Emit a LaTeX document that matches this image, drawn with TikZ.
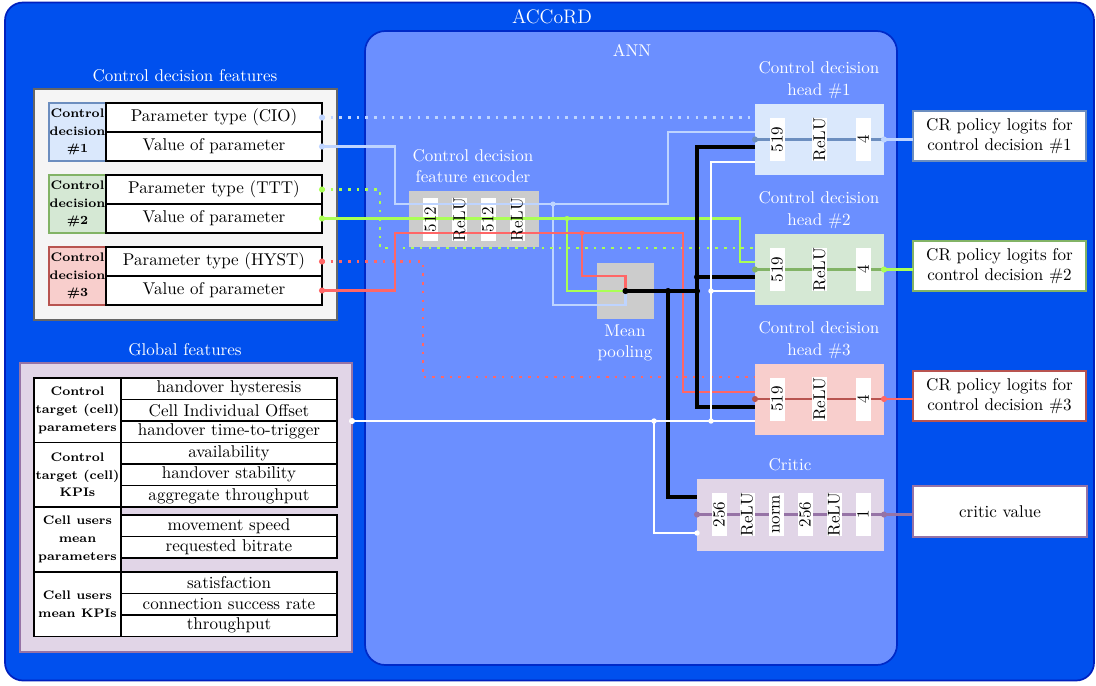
\documentclass[tikz,border=0pt]{standalone}
\usetikzlibrary{calc}
\definecolor{accfill}{RGB}{0,80,238}
\definecolor{accdraw}{RGB}{0,32,190}
\definecolor{annfill}{RGB}{107,143,255}
\definecolor{anndraw}{RGB}{0,42,200}
\definecolor{bluefill}{HTML}{DAE8FC}
\definecolor{bluedraw}{HTML}{6C8EBF}
\definecolor{greenfill}{HTML}{D5E8D4}
\definecolor{greendraw}{HTML}{82B366}
\definecolor{redfill}{HTML}{F8CECC}
\definecolor{reddraw}{HTML}{B85450}
\definecolor{purpfill}{HTML}{E1D5E7}
\definecolor{purpdraw}{HTML}{9673A6}
\definecolor{wblue}{RGB}{190,212,255}
\definecolor{wgreen}{RGB}{170,255,85}
\definecolor{wred}{RGB}{255,102,102}
\definecolor{panelgray}{HTML}{F5F5F5}
\definecolor{panelline}{HTML}{666666}
\definecolor{encgray}{HTML}{CCCCCC}
\newdimen\pu
\pu=0.587pt
\tikzset{
  every node/.style={inner sep=0pt, outer sep=0pt},
  ttl/.style={text=white, align=center, font=\fontsize{10}{12.3}\selectfont},
  httl/.style={text=white, align=center, font=\fontsize{10}{13}\selectfont},
  rowbox/.style={draw=black, line width=0.8pt, fill=white, minimum width=216\pu, minimum height=29\pu},
  growbox/.style={draw=black, line width=0.8pt, fill=white, minimum width=216\pu, minimum height=21.5\pu},
  cdcell/.style={line width=0.8pt, minimum width=57\pu, minimum height=58\pu, align=center, font=\bfseries\fontsize{7.3}{10.4}\selectfont},
  gcell/.style={draw=black, line width=0.8pt, fill=white, minimum width=87\pu, align=center, font=\bfseries\fontsize{7.3}{10.4}\selectfont},
  wb/.style={fill=white, rotate=90, minimum width=43\pu, minimum height=15\pu},
  wt/.style={rotate=90},
  headbox/.style={minimum width=129\pu, minimum height=71\pu},
  outbox/.style={fill=white, line width=0.8pt, minimum width=173\pu, minimum height=50\pu, align=center},
  wire/.style={line width=1.4pt},
  bwire/.style={line width=1.8pt, draw=black},
  dotw/.style={line width=1.5pt, dash pattern=on 1.5pt off 3.6pt},
  hline/.style={line width=1.5pt},
}
\begin{document}
\begin{tikzpicture}[x=0.587pt,y=-0.587pt]
\useasboundingbox (0,0) rectangle (1096,685);
% containers
\node[draw=accdraw, fill=accfill, line width=1pt, rounded corners=10.5pt, minimum width=1089\pu, minimum height=678\pu] (accord) at (549.5,341.5) {};
\node[ttl, font=\fontsize{11.5}{14}\selectfont] (acct) at (552,17) {ACCoRD};
\node[draw=anndraw, fill=annfill, line width=1pt, rounded corners=12pt, minimum width=532\pu, minimum height=634\pu] (ann) at (631,348) {};
\node[ttl] (annt) at (632,50) {ANN};

% control decision features
\node[draw=panelline, fill=panelgray, line width=0.8pt, minimum width=303\pu, minimum height=231\pu] (cdf) at (185.5,204.5) {};
\node[ttl] (cdft) at (185,76) {Control decision features};
\node[cdcell, draw=bluedraw, fill=bluefill] (cd1) at (77.5,132) {Control\\decision\\\#1};
\node[cdcell, draw=greendraw, fill=greenfill] (cd2) at (77.5,204) {Control\\decision\\\#2};
\node[cdcell, draw=reddraw, fill=redfill] (cd3) at (77.5,276) {Control\\decision\\\#3};
\node[rowbox] (cio) at (214,117.5) {Parameter type (CIO)};
\node[rowbox] (v1) at (214,146.5) {Value of parameter};
\node[rowbox] (ttt) at (214,189.5) {Parameter type (TTT)};
\node[rowbox] (v2) at (214,218.5) {Value of parameter};
\node[rowbox] (hyst) at (214,261.5) {Parameter type (HYST)};
\node[rowbox] (v3) at (214,290.5) {Value of parameter};

% global features
\node[draw=purpdraw, fill=purpfill, line width=0.8pt, minimum width=332\pu, minimum height=289\pu] (gf) at (186,507.5) {};
\node[ttl] (gft) at (185,350) {Global features};
\node[gcell, minimum height=64.5\pu] (g1) at (77.5,410.25) {Control\\target (cell)\\parameters};
\node[gcell, minimum height=64.5\pu] (g2) at (77.5,474.75) {Control\\target (cell)\\KPIs};
\node[gcell, minimum height=65\pu] (g3) at (77.5,539.5) {Cell users\\mean\\parameters};
\node[gcell, minimum height=64.5\pu] (g4) at (77.5,604.25) {Cell users\\mean KPIs};
\node[growbox] (g1a) at (229,388.75) {handover hysteresis};
\node[growbox] (g1b) at (229,410.25) {Cell Individual Offset};
\node[growbox] (g1c) at (229,431.75) {handover time-to-trigger};
\node[growbox] (g2a) at (229,453.25) {availability};
\node[growbox] (g2b) at (229,474.75) {handover stability};
\node[growbox] (g2c) at (229,496.25) {aggregate throughput};
\node[growbox] (g3a) at (229,525.75) {movement speed};
\node[growbox] (g3b) at (229,547.25) {requested bitrate};
\node[growbox] (g4a) at (229,582.75) {satisfaction};
\node[growbox] (g4b) at (229,604.25) {connection success rate};
\node[growbox] (g4c) at (229,625.75) {throughput};
\coordinate (gfout) at (gf.east |- g1b.south);

% encoder
\node[fill=encgray, minimum width=130\pu, minimum height=56\pu] (enc) at (474,219) {};
\node[ttl] (enct) at (473,166) {Control decision\\feature encoder};
\node[wb] (e1) at (430.5,219.5) {};
\node[wb] (e2) at (459.5,219.5) {};
\node[wb] (e3) at (488,219.5) {};
\node[wb] (e4) at (517,219.5) {};

% pooling
\node[fill=encgray, minimum width=57\pu, minimum height=56\pu] (pool) at (625.5,291) {};
\node[ttl] (poolt) at (625,343) {Mean\\pooling};

% heads
\node[headbox, fill=bluefill] (h1) at (819.5,139.5) {};
\node[headbox, fill=greenfill] (h2) at (819.5,269.5) {};
\node[headbox, fill=redfill] (h3) at (819.5,399) {};
\node[httl] (h1t) at (819,80) {Control decision\\head \#1};
\node[httl] (h2t) at (819,210) {Control decision\\head \#2};
\node[httl] (h3t) at (819,340) {Control decision\\head \#3};

% outputs
\node[outbox, draw=bluedraw] (o1) at (999.5,136) {CR policy logits for\\control decision \#1};
\node[outbox, draw=greendraw] (o2) at (999.5,266) {CR policy logits for\\control decision \#2};
\node[outbox, draw=reddraw] (o3) at (999.5,396) {CR policy logits for\\control decision \#3};

% critic
\node[fill=purpfill, minimum width=187\pu, minimum height=72\pu] (cr) at (790.5,514.5) {};
\node[ttl] (crt) at (790,465) {Critic};
\node[outbox, draw=purpdraw, minimum width=174\pu, minimum height=51\pu] (oc) at (1000,511.5) {critic value};

% head lines
\draw[hline, bluedraw] (h1.west) -- (h1.east);
\draw[hline, wblue] (h1.east) -- (h1.east -| o1.west);
\draw[hline, greendraw] (h2.west) -- (h2.east);
\draw[hline, wgreen] (h2.east) -- (h2.east -| o2.west);
\draw[hline, reddraw] (h3.west) -- (h3.east);
\draw[hline, wred] (h3.east) -- (h3.east -| o3.west);
\draw[hline, purpdraw] (cr.west) -- (cr.east) -- (cr.east -| oc.west);

\foreach \h in {1,2,3}{
  \node[wb] (h\h a) at ($(h\h.center)+(-42.5,0)$) {519};
  \node[wb] (h\h b) at (h\h.center) {ReLU};
  \node[wb] (h\h c) at ($(h\h.center)+(43.5,0)$) {4};
}
\node[wb] (c1) at (719,514.5) {256};
\node[wb] (c2) at (747,514.5) {ReLU};
\node[wb] (c3) at (776,514.5) {norm};
\node[wb] (c4) at (805,514.5) {256};
\node[wb] (c5) at (834,514.5) {ReLU};
\node[wb] (c6) at (863,514.5) {1};

% ports and junctions
\coordinate (p1a) at (h1.west |- cio.east);
\coordinate (p1b) at (755,132);
\coordinate (p1c) at (755,147);
\coordinate (p1d) at (755,162);
\coordinate (p2a) at (755,248);
\coordinate (p2b) at (755,262);
\coordinate (p2c) at (755,277);
\coordinate (p2d) at (755,291);
\coordinate (p3a) at (755,377);
\coordinate (p3b) at (755,392);
\coordinate (p3c) at (755,407);
\coordinate (p3d) at (h3.west |- gfout);
\coordinate (pca) at (697,497);
\coordinate (pcb) at (697,533);
\coordinate (jb) at (553,204);
\coordinate (jg) at (567,218.5);
\coordinate (jr) at (582,233);
\coordinate (jk1) at (668,291);
\coordinate (jk2) at (697,291);
\coordinate (jk3) at (697,277);
\coordinate (jw1) at (711,421);
\coordinate (jw2) at (711,291);
\coordinate (jw3) at (654,421);

% wires
\draw[dotw, wblue] (cio.east) -- (p1a);
\draw[wire, wblue] (v1.east) -| (395,204) -- (668,204) |- (p1b);
\draw[wire, wblue] (jb) -- (553,305) -| (pool.center);
\draw[dotw, wgreen] (ttt.east) -| (380,248) -- (p2a);
\draw[wire, wgreen] (v2.east) -- (740,218.5) |- (p2b);
\draw[wire, wgreen] (jg) |- (pool.center);
\draw[dotw, wred] (hyst.east) -| (423,377) -- (p3a);
\draw[wire, wred] (v3.east) -| (395,233) -- (683,233) |- (p3b);
\draw[wire, wred] (jr) -- (582,276) -| (pool.center);

\draw[bwire] (pool.center) -- (jk2);
\draw[bwire] (jk1) |- (pca);
\draw[bwire] (p1c) -| (697,407) -- (p3c);
\draw[bwire] (jk3) -- (p2c);

\draw[wire, white] (gfout) -- (p3d);
\draw[wire, white] (jw1) |- (p1d);
\draw[wire, white] (jw2) -- (p2d);
\draw[wire, white] (jw3) |- (pcb);

% encoder layer labels (on top of the wires)
\node[wt] (e1t) at (e1.center) {512};
\node[wt] (e2t) at (e2.center) {ReLU};
\node[wt] (e3t) at (e3.center) {512};
\node[wt] (e4t) at (e4.center) {ReLU};

% dots
\foreach \n/\c in {cio/wblue, v1/wblue, ttt/wgreen, v2/wgreen, hyst/wred, v3/wred}{
  \fill[\c] (\n.east) circle (1.8pt);
}
\fill[white] (gfout) circle (1.8pt);
\fill[wblue] (jb) circle (1.5pt);
\fill[wgreen] (jg) circle (1.5pt);
\fill[wred] (jr) circle (1.5pt);
\foreach \j in {pool.center, jk1, jk2, jk3}{\fill[black] (\j) circle (1.8pt);}
\foreach \j in {jw1, jw2, jw3, pcb}{\fill[white] (\j) circle (1.6pt);}
\fill[bluedraw] (h1.west) circle (1.8pt);
\fill[wblue] (h1.east) circle (1.8pt);
\fill[greendraw] (h2.west) circle (1.8pt);
\fill[wgreen] (h2.east) circle (1.8pt);
\fill[reddraw] (h3.west) circle (1.8pt);
\fill[wred] (h3.east) circle (1.8pt);
\fill[purpdraw] (cr.west) circle (1.8pt);
\fill[purpdraw] (cr.east) circle (1.8pt);
\end{tikzpicture}
\end{document}
